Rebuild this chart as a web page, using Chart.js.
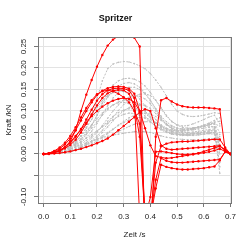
<!DOCTYPE html>
<html>
<head>
<meta charset="utf-8">
<script src="https://cdn.jsdelivr.net/npm/chart.js@4"></script>
<style>
    html, body { margin: 0; padding: 0; background: #fff; }
    #wrap { width: 250px; height: 250px; }
</style>
</head>
<body>
<div id="wrap"><canvas id="kraftChart" width="250" height="250"></canvas></div>
<script>
// time in s, one sample every 0.02 s
const zeit = [0, 0.02, 0.04, 0.06, 0.08, 0.10, 0.12, 0.14, 0.16, 0.18, 0.20, 0.22, 0.24, 0.26, 0.28, 0.30, 0.32, 0.34,
    0.36, 0.38, 0.40, 0.42, 0.44, 0.46, 0.48, 0.50, 0.52, 0.54, 0.56, 0.58, 0.60, 0.62, 0.64, 0.66, 0.68, 0.70];

// grey runs (force in kN)
const grau1 = [0, 0.001, 0.003, 0.006, 0.01, 0.017, 0.027, 0.042, 0.062, 0.09, 0.128, 0.17, 0.198, 0.209, 0.213, 0.215, 0.214, 0.21, 0.205, 0.198, 0.187, 0.172, 0.155, 0.135, 0.115, 0.1, 0.092, 0.088, 0.087, 0.088, 0.09, 0.093, 0.096, 0.094, null, null];
const grau2 = [0, 0.001, 0.002, 0.004, 0.007, 0.012, 0.02, 0.03, 0.045, 0.065, 0.09, 0.118, 0.143, 0.16, 0.17, 0.175, 0.176, 0.174, 0.168, 0.158, 0.143, 0.125, 0.105, 0.088, 0.075, 0.068, 0.065, 0.066, 0.07, 0.075, 0.08, 0.086, 0.09, 0.07, null, null];
const grau3 = [0, 0.001, 0.003, 0.006, 0.01, 0.016, 0.024, 0.035, 0.05, 0.068, 0.09, 0.112, 0.132, 0.148, 0.158, 0.164, 0.166, 0.163, 0.155, 0.142, 0.125, 0.105, 0.088, 0.075, 0.066, 0.06, 0.058, 0.058, 0.06, 0.063, 0.066, 0.07, 0.072, 0.02, null, null];
const grau4 = [0, 0.001, 0.002, 0.004, 0.007, 0.011, 0.017, 0.026, 0.038, 0.053, 0.071, 0.092, 0.112, 0.13, 0.143, 0.151, 0.155, 0.155, 0.15, 0.14, 0.124, 0.105, 0.085, 0.07, 0.06, 0.055, 0.053, 0.054, 0.056, 0.058, 0.06, 0.062, 0.063, -0.03, null, null];
const grau5 = [0, 0.002, 0.005, 0.009, 0.015, 0.024, 0.036, 0.052, 0.07, 0.09, 0.108, 0.124, 0.136, 0.143, 0.146, 0.145, 0.14, 0.13, 0.116, 0.1, 0.085, 0.072, 0.063, 0.058, 0.055, 0.055, 0.056, 0.058, 0.06, 0.062, 0.064, 0.065, 0.063, 0.01, null, null];
const grau6 = [0, 0.001, 0.002, 0.003, 0.005, 0.008, 0.012, 0.018, 0.026, 0.037, 0.05, 0.066, 0.083, 0.1, 0.114, 0.125, 0.132, 0.135, 0.134, 0.128, 0.117, 0.1, 0.082, 0.068, 0.058, 0.052, 0.05, 0.05, 0.051, 0.053, 0.055, 0.057, 0.058, 0.03, null, null];
const grau7 = [0, 0.001, 0.003, 0.006, 0.01, 0.016, 0.024, 0.034, 0.046, 0.06, 0.075, 0.09, 0.103, 0.114, 0.121, 0.125, 0.125, 0.121, 0.113, 0.1, 0.086, 0.072, 0.06, 0.052, 0.047, 0.045, 0.045, 0.046, 0.048, 0.05, 0.052, 0.054, 0.055, -0.045, null, null];
const grau8 = [0, 0.001, 0.001, 0.002, 0.004, 0.006, 0.009, 0.014, 0.02, 0.028, 0.038, 0.05, 0.063, 0.077, 0.09, 0.1, 0.108, 0.113, 0.115, 0.113, 0.106, 0.094, 0.08, 0.068, 0.06, 0.056, 0.055, 0.056, 0.058, 0.061, 0.064, 0.068, 0.07, 0.05, null, null];
const grau9 = [0, 0.001, 0.002, 0.004, 0.007, 0.011, 0.016, 0.023, 0.031, 0.041, 0.052, 0.064, 0.076, 0.087, 0.096, 0.102, 0.105, 0.105, 0.101, 0.094, 0.084, 0.073, 0.063, 0.055, 0.05, 0.047, 0.046, 0.046, 0.047, 0.049, 0.051, 0.053, 0.054, 0.0, null, null];
const grau10 = [0, 0.001, 0.001, 0.002, 0.003, 0.005, 0.008, 0.012, 0.017, 0.023, 0.03, 0.038, 0.047, 0.057, 0.067, 0.076, 0.084, 0.09, 0.094, 0.095, 0.093, 0.087, 0.078, 0.07, 0.064, 0.06, 0.058, 0.058, 0.06, 0.063, 0.067, 0.072, 0.078, 0.084, null, null];
const grau11 = [0, 0.001, 0.002, 0.003, 0.005, 0.008, 0.011, 0.016, 0.021, 0.027, 0.034, 0.042, 0.05, 0.058, 0.066, 0.073, 0.079, 0.083, 0.085, 0.084, 0.08, 0.073, 0.065, 0.058, 0.053, 0.05, 0.048, 0.047, 0.047, 0.048, 0.049, 0.05, 0.05, 0.02, null, null];
const grau12 = [0, 0.001, 0.002, 0.003, 0.004, 0.006, 0.009, 0.012, 0.016, 0.021, 0.026, 0.032, 0.038, 0.045, 0.052, 0.058, 0.064, 0.069, 0.073, 0.075, 0.075, 0.072, 0.066, 0.058, 0.052, 0.047, 0.044, 0.043, 0.043, 0.044, 0.046, 0.048, 0.049, 0.04, null, null];
const grau13 = [0, 0.001, 0.003, 0.005, 0.008, 0.012, 0.016, 0.02, 0.025, 0.03, 0.034, 0.038, 0.041, 0.044, 0.046, 0.048, 0.05, 0.052, 0.053, 0.052, 0.05, 0.046, 0.042, 0.039, 0.037, 0.035, 0.034, 0.033, 0.033, 0.033, 0.034, 0.035, 0.036, 0.01, null, null];
const grau14 = [0, 0.001, 0.003, 0.006, 0.011, 0.018, 0.028, 0.042, 0.06, 0.08, 0.1, 0.118, 0.133, 0.143, 0.149, 0.15, 0.147, 0.14, 0.128, 0.112, 0.095, 0.08, 0.068, 0.06, 0.055, 0.053, 0.053, 0.055, 0.058, 0.062, 0.066, 0.07, 0.074, 0.076, null, null];
const grau15 = [0, 0.002, 0.005, 0.009, 0.014, 0.021, 0.03, 0.041, 0.054, 0.068, 0.082, 0.095, 0.106, 0.114, 0.119, 0.12, 0.117, 0.11, 0.1, 0.088, 0.075, 0.064, 0.056, 0.05, 0.046, 0.044, 0.043, 0.043, 0.044, 0.045, 0.046, 0.047, 0.046, -0.02, null, null];
const grau16 = [0, 0.001, 0.003, 0.006, 0.01, 0.015, 0.021, 0.028, 0.036, 0.045, 0.054, 0.063, 0.072, 0.08, 0.087, 0.092, 0.095, 0.094, 0.09, 0.083, 0.074, 0.065, 0.058, 0.052, 0.048, 0.046, 0.045, 0.045, 0.046, 0.047, 0.048, 0.049, 0.05, 0.045, null, null];
const grau17 = [0, 0.001, 0.001, 0.002, 0.004, 0.006, 0.01, 0.015, 0.022, 0.031, 0.042, 0.055, 0.07, 0.086, 0.101, 0.115, 0.126, 0.134, 0.139, 0.14, 0.136, 0.125, 0.108, 0.09, 0.076, 0.067, 0.062, 0.06, 0.06, 0.062, 0.065, 0.068, 0.07, 0.065, null, null];

// red runs (force in kN)
const rot1 = [0, 0.001, 0.003, 0.007, 0.015, 0.03, 0.055, 0.1, 0.138, 0.172, 0.203, 0.23, 0.252, 0.266, 0.274, 0.277, 0.276, 0.27, 0.25, -0.2, -0.2, 0.04, 0.125, 0.13, 0.122, 0.115, 0.111, 0.109, 0.108, 0.108, 0.108, 0.107, 0.106, 0.104, 0.01, 0];
const rot2 = [0, 0.002, 0.006, 0.012, 0.022, 0.036, 0.055, 0.078, 0.1, 0.12, 0.137, 0.147, 0.153, 0.156, 0.157, 0.156, 0.152, 0.14, 0.1, -0.15, -0.15, -0.02, 0.018, 0.024, 0.027, 0.028, 0.029, 0.029, 0.03, 0.031, 0.032, 0.033, 0.034, 0.034, 0.015, 0];
const rot3 = [0, 0.001, 0.004, 0.009, 0.016, 0.026, 0.04, 0.058, 0.08, 0.103, 0.124, 0.139, 0.148, 0.152, 0.153, 0.152, 0.148, 0.13, -0.15, -0.15, -0.1, 0.005, 0.006, 0.004, 0.002, 0.0, -0.001, -0.001, 0.0, 0.002, 0.006, 0.01, 0.014, 0.018, 0.008, 0];
const rot4 = [0, 0.002, 0.007, 0.015, 0.026, 0.042, 0.062, 0.085, 0.107, 0.125, 0.139, 0.146, 0.148, 0.146, 0.14, 0.132, 0.12, 0.1, 0.07, -0.15, -0.15, -0.06, -0.01, -0.016, -0.019, -0.02, -0.02, -0.019, -0.018, -0.017, -0.016, -0.015, -0.014, -0.013, 0.005, 0];
const rot5 = [0, 0.001, 0.003, 0.007, 0.013, 0.021, 0.033, 0.05, 0.07, 0.092, 0.113, 0.13, 0.141, 0.147, 0.149, 0.148, 0.14, 0.11, 0.04, -0.15, -0.15, -0.08, -0.025, -0.03, -0.033, -0.035, -0.036, -0.036, -0.035, -0.034, -0.033, -0.031, -0.029, -0.015, 0.005, 0];
const rot6 = [0, 0.001, 0.003, 0.008, 0.016, 0.028, 0.042, 0.057, 0.073, 0.088, 0.1, 0.11, 0.118, 0.124, 0.128, 0.13, 0.128, 0.12, 0.1, 0.06, 0.02, -0.005, -0.008, -0.01, -0.009, -0.007, -0.005, -0.003, -0.001, 0.001, 0.003, 0.005, 0.008, 0.012, 0.006, 0];
const rot7 = [0, 0.0, 0.001, 0.002, 0.004, 0.006, 0.009, 0.012, 0.016, 0.02, 0.025, 0.03, 0.036, 0.045, 0.055, 0.065, 0.075, 0.086, 0.097, 0.104, 0.1, 0.06, 0.02, 0.012, 0.01, 0.011, 0.012, 0.013, 0.014, 0.015, 0.016, 0.017, 0.018, 0.019, 0.01, 0];

const grauReihen = [grau1, grau2, grau3, grau4, grau5, grau6, grau7, grau8, grau9, grau10, grau11, grau12, grau13, grau14, grau15, grau16, grau17];
const rotReihen = [rot1, rot2, rot3, rot4, rot5, rot6, rot7];

const zeitTicks = [0, 0.1, 0.2, 0.3, 0.4, 0.5, 0.6, 0.7];
const kraftTicks = [-0.10, -0.05, 0.00, 0.05, 0.10, 0.15, 0.20, 0.25];

function toPoints(values) {
    return zeit.map(function (t, i) {
        return {x: t, y: values[i]};
    });
}

function makeDataset(values, color, radius, order, dash) {
    return {
        data: toPoints(values),
        borderColor: color,
        backgroundColor: color,
        borderWidth: 1,
        borderDash: dash,
        pointRadius: radius,
        pointBorderWidth: 0,
        pointBackgroundColor: color,
        tension: 0,
        spanGaps: false,
        order: order
    };
}

// plot box like R's box()
const boxPlugin = {
    id: 'box',
    afterDraw: function (chart) {
        const a = chart.chartArea;
        const ctx = chart.ctx;
        ctx.save();
        ctx.strokeStyle = '#777';
        ctx.lineWidth = 1;
        ctx.strokeRect(Math.round(a.left) + 0.5, Math.round(a.top) + 0.5, Math.round(a.right - a.left), Math.round(a.bottom - a.top));
        ctx.restore();
    }
};

const datasets = [];
rotReihen.forEach(function (r) {
    datasets.push(makeDataset(r, '#ff0000', 1.2, 0, []));
});
grauReihen.forEach(function (g) {
    datasets.push(makeDataset(g, '#bebebe', 0.8, 1, [2, 1.5]));
});

new Chart(document.getElementById('kraftChart'), {
    type: 'line',
    data: {datasets: datasets},
    plugins: [boxPlugin],
    options: {
        responsive: false,
        animation: false,
        events: [],
        layout: {padding: {top: 0, right: 19, bottom: 0, left: 0}},
        plugins: {
            legend: {display: false},
            tooltip: {enabled: false},
            title: {
                display: true,
                text: 'Spritzer',
                color: '#111',
                font: {family: 'Liberation Sans, Arial, sans-serif', size: 9, weight: 'bold'},
                padding: {top: 13.6, bottom: 12.6}
            }
        },
        scales: {
            x: {
                type: 'linear',
                min: -0.021,
                max: 0.702,
                afterFit: function (s) { s.height = 47; },
                afterBuildTicks: function (s) {
                    s.ticks = zeitTicks.map(function (v) { return {value: v}; });
                },
                ticks: {
                    callback: function (v) { return v.toFixed(1); },
                    font: {family: 'Liberation Sans, Arial, sans-serif', size: 8},
                    color: '#222',
                    padding: 5,
                    maxRotation: 0,
                    autoSkip: false
                },
                grid: {color: '#e3e3e3', tickColor: '#777', tickLength: 4, lineWidth: 1},
                border: {display: true, color: '#777'},
                title: {
                    display: true,
                    text: 'Zeit /s',
                    color: '#222',
                    font: {family: 'Liberation Sans, Arial, sans-serif', size: 8},
                    padding: {top: 0, bottom: 10}
                }
            },
            y: {
                type: 'linear',
                min: -0.114,
                max: 0.272,
                afterFit: function (s) { s.width = 38; },
                afterBuildTicks: function (s) {
                    s.ticks = kraftTicks.map(function (v) { return {value: v}; });
                },
                ticks: {
                    // R drops the -0.05 label (overlap)
                    callback: function (v) { return Math.abs(v + 0.05) < 1e-6 ? '' : v.toFixed(2); },
                    font: {family: 'Liberation Sans, Arial, sans-serif', size: 8},
                    color: '#222',
                    padding: 1,
                    minRotation: 90,
                    maxRotation: 90,
                    crossAlign: 'center',
                    autoSkip: false
                },
                grid: {color: '#e3e3e3', tickColor: '#777', tickLength: 4, lineWidth: 1},
                border: {display: true, color: '#777'},
                title: {
                    display: true,
                    text: 'Kraft /kN',
                    color: '#222',
                    font: {family: 'Liberation Sans, Arial, sans-serif', size: 8},
                    padding: {top: 3.5, bottom: 0}
                }
            }
        }
    }
});
</script>
</body>
</html>
